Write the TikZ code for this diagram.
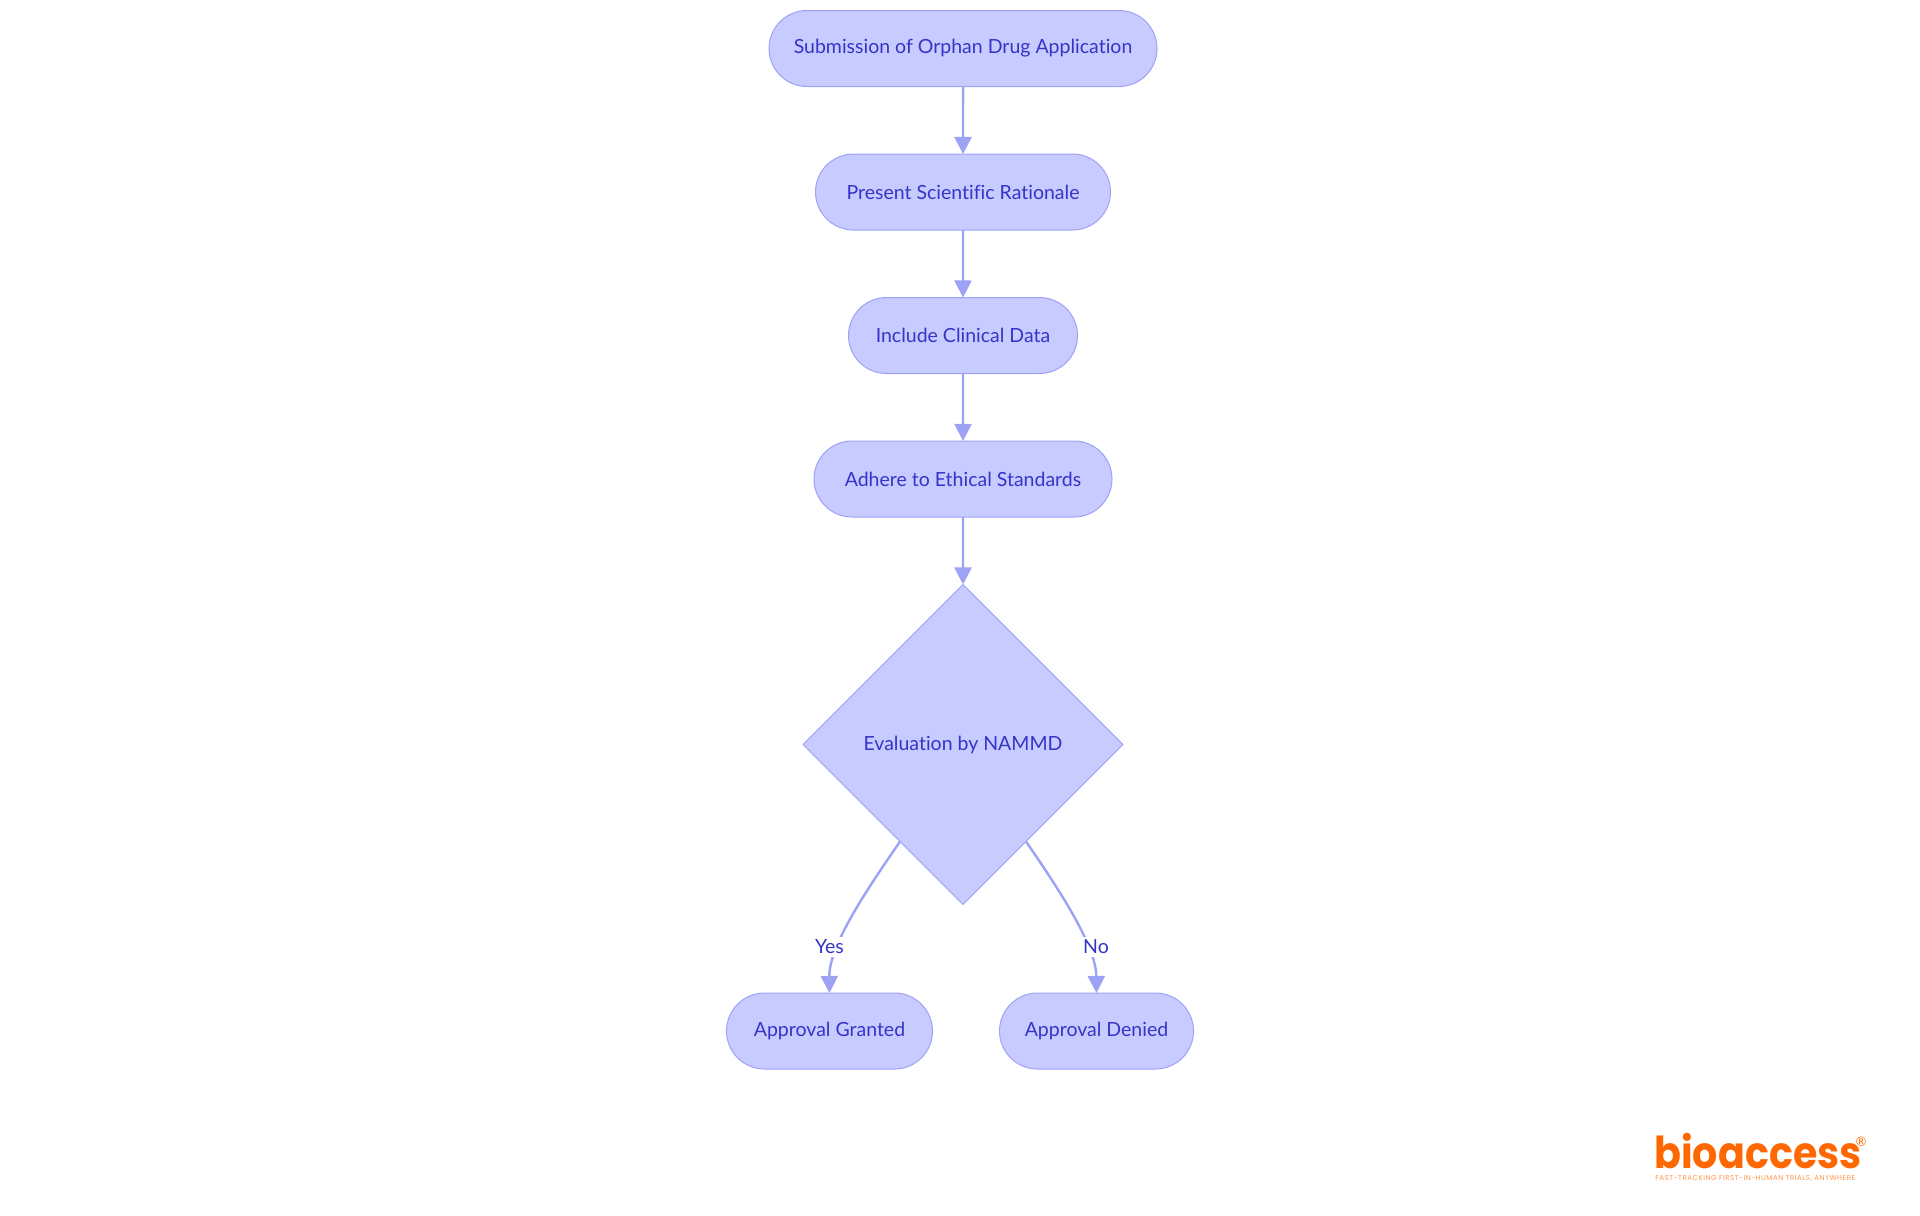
\documentclass[tikz,border=0pt]{standalone}
\usepackage{fontspec}
\setmainfont{Lato}[Ligatures=NoCommon]
\newfontfamily\logofont{Poppins}[FakeStretch=0.9]
\newfontfamily\regfont{DejaVu Sans}
\newfontfamily\tagfont{Poppins}[LetterSpace=7]
\usetikzlibrary{arrows.meta,shapes.geometric,shapes.misc}
\definecolor{nodefill}{RGB}{200,203,255}
\definecolor{nodeline}{RGB}{157,162,245}
\definecolor{nodetext}{RGB}{52,52,200}
\definecolor{logoorange}{RGB}{255,104,0}
\tikzset{
	stepbox/.style={rounded rectangle,draw=nodeline,fill=nodefill,text=nodetext,
		line width=0.5pt,inner sep=0pt,outer sep=0pt,minimum height=38pt,font=\fontsize{9.75}{12}\selectfont},
	decisionbox/.style={diamond,draw=nodeline,fill=nodefill,text=nodetext,
		line width=0.5pt,inner sep=0pt,outer sep=0pt,minimum width=160pt,minimum height=160pt,
		font=\fontsize{9.75}{12}\selectfont},
	flowline/.style={draw=nodeline,line width=1.2pt,-{Triangle[length=8.5pt,width=8.5pt]}},
	edgelabel/.style={fill=white,text=nodetext,inner xsep=0.5pt,inner ysep=1.5pt,font=\fontsize{9.75}{12}\selectfont}
}

\begin{document}
\begin{tikzpicture}[x=0.5pt,y=0.5pt]
		\useasboundingbox (0,0) rectangle (1920,-1215);
		
		% process steps
		\node[stepbox,minimum width=194pt] (submission) at (963,-48.5) {Submission of Orphan Drug Application};
		\node[stepbox,minimum width=147.5pt] (rationale) at (963,-192) {Present Scientific Rationale};
		\node[stepbox,minimum width=114.5pt] (clinical) at (963,-335.5) {Include Clinical Data};
		\node[stepbox,minimum width=149pt] (ethical) at (963,-479) {Adhere to Ethical Standards};
		
		% decision
		\node[decisionbox] (evaluation) at (963,-744.5) {Evaluation by NAMMD};
		
		% outcomes
		\node[stepbox,minimum width=103pt] (granted) at (829.5,-1031) {Approval Granted};
		\node[stepbox,minimum width=97pt] (denied) at (1096.5,-1031) {Approval Denied};
		
		% connectors
		\draw[flowline] (submission) -- (rationale);
		\draw[flowline] (rationale) -- (clinical);
		\draw[flowline] (clinical) -- (ethical);
		\draw[flowline] (ethical) -- (evaluation);
		\draw[flowline] (evaluation.-123) .. controls (868,-888) and (829,-945) .. (granted.north);
		\draw[flowline] (evaluation.-57) .. controls (1058,-888) and (1096,-945) .. (denied.north);
		
		% edge labels
		\node[edgelabel] (yes) at (829.5,-947) {Yes};
		\node[edgelabel] (no) at (1096,-947) {No};
		
		% logo
		\node[text=logoorange,inner sep=0pt,anchor=base west,font=\logofont\bfseries\fontsize{22}{24}\selectfont] (logo) at (1654,-1168) {bioaccess};
		\node[text=logoorange,inner sep=0pt,font=\regfont\fontsize{6.5}{7}\selectfont] (regmark) at (1861,-1142) {®};
		\node[text=logoorange!70,inner sep=0pt,anchor=base west,font=\tagfont\fontsize{3.55}{4}\selectfont] (tagline) at (1655,-1180) {FAST-TRACKING FIRST-IN-HUMAN TRIALS, ANYWHERE};
		
	\end{tikzpicture}
\end{document}
